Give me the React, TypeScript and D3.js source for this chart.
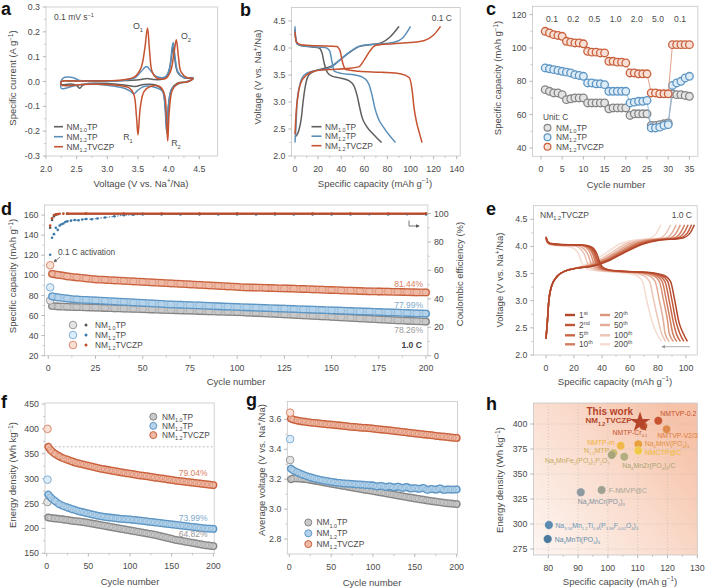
import React from 'react';
import * as d3 from 'd3';

type P = [number, number];

const FONT = "'Liberation Sans', Arial, Helvetica, sans-serif";
const TXT = '#4a4a4a';

const seriesNames = ['NM_{1.0}TP', 'NM_{1.2}TP', 'NM_{1.2}TVCZP'];
const lineColors = ['#5f5f5f', '#5b90bb', '#c65330'];

// ---------- a: CV loops (V, A g-1), anodic then cathodic ----------
const cvGray: P[] = [[2.25,0.0],[2.4,0.002],[2.6,0.003],[3.0,0.003],[3.4,0.005],[3.55,0.008],[3.65,0.012],[3.75,0.008],[3.9,0.01],[3.99,0.03],[4.04,0.09],[4.075,0.14],[4.1,0.09],[4.15,0.035],[4.25,0.015],[4.4,0.012],[4.3,-0.002],[4.15,-0.006],[4.05,-0.03],[4.0,-0.09],[3.975,-0.21],[3.95,-0.12],[3.9,-0.035],[3.8,-0.015],[3.6,-0.012],[3.45,-0.02],[3.3,-0.015],[3.0,-0.008],[2.7,-0.008],[2.6,-0.015],[2.55,-0.027],[2.5,-0.016],[2.4,-0.01],[2.25,-0.012]];
const cvBlue: P[] = [[2.25,0.004],[2.28,0.014],[2.35,0.018],[2.45,0.015],[2.55,0.004],[2.8,0.0],[3.2,0.003],[3.45,0.015],[3.55,0.04],[3.64,0.06],[3.7,0.045],[3.8,0.02],[3.95,0.02],[4.02,0.06],[4.055,0.135],[4.075,0.157],[4.1,0.11],[4.15,0.04],[4.25,0.016],[4.4,0.015],[4.3,0.0],[4.15,-0.01],[4.05,-0.03],[4.0,-0.09],[3.965,-0.2],[3.94,-0.1],[3.9,-0.04],[3.8,-0.025],[3.6,-0.02],[3.5,-0.035],[3.43,-0.05],[3.38,-0.04],[3.25,-0.025],[3.0,-0.015],[2.7,-0.01],[2.5,-0.015],[2.35,-0.025],[2.25,-0.028]];
const cvRed: P[] = [[2.25,0.0],[2.5,0.002],[3.0,0.003],[3.3,0.008],[3.45,0.02],[3.55,0.055],[3.61,0.13],[3.655,0.215],[3.69,0.12],[3.73,0.04],[3.8,0.015],[3.95,0.012],[4.03,0.04],[4.09,0.12],[4.125,0.168],[4.16,0.1],[4.2,0.04],[4.3,0.015],[4.4,0.012],[4.3,-0.002],[4.15,-0.008],[4.06,-0.035],[4.01,-0.12],[3.985,-0.24],[3.965,-0.15],[3.93,-0.05],[3.85,-0.02],[3.7,-0.02],[3.6,-0.04],[3.54,-0.1],[3.5,-0.215],[3.475,-0.14],[3.43,-0.05],[3.35,-0.025],[3.0,-0.012],[2.6,-0.012],[2.25,-0.014]];
const aVoltTicks = [2.0, 2.5, 3.0, 3.5, 4.0, 4.5];
const aCurrTicks = [-0.3, -0.2, -0.1, 0.0, 0.1, 0.2, 0.3];

// ---------- b: charge/discharge at 0.1 C (mAh g-1, V) ----------
const bGrayDis: P[] = [[0,4.35],[0.5,4.2],[2,4.08],[6,4.04],[15,4.02],[21,4.0],[23.5,3.9],[25.5,3.7],[28,3.55],[32,3.48],[40,3.44],[47,3.39],[51,3.3],[54,3.1],[56,2.9],[58,2.72],[62,2.55],[68,2.4],[75,2.25]];
const bBlueDis: P[] = [[0,4.4],[0.5,4.2],[2,4.07],[10,4.03],[26,4.01],[30,3.95],[32,3.75],[34,3.57],[40,3.53],[52,3.5],[60,3.44],[64,3.33],[67,3.1],[69,2.9],[72,2.7],[77,2.52],[87,2.25]];
const bRedDis: P[] = [[0,4.3],[1,4.12],[5,4.06],[20,4.04],[36,4.03],[39,3.95],[41,3.75],[44,3.6],[55,3.57],[75,3.55],[92,3.52],[99,3.45],[101.5,3.2],[103,2.9],[105,2.65],[108,2.4],[110,2.25]];
const bGrayCh: P[] = [[0,2.35],[3,2.45],[5.5,2.7],[7,3.0],[9,3.3],[12,3.5],[18,3.58],[25,3.62],[32,3.67],[40,3.8],[48,3.93],[56,4.03],[65,4.06],[75,4.1],[82,4.2],[90,4.4]];
const bBlueCh: P[] = [[0,2.25],[0.8,2.5],[1.8,3.0],[4,3.3],[8,3.5],[15,3.57],[25,3.6],[31,3.64],[40,3.8],[49,3.95],[57,4.04],[70,4.07],[85,4.1],[93,4.18],[100,4.4]];
const bRedCh: P[] = [[0,2.4],[1,2.8],[2.5,3.1],[5,3.35],[10,3.5],[18,3.58],[30,3.6],[45,3.62],[55,3.65],[60,3.78],[65,3.95],[70,4.05],[85,4.08],[100,4.1],[112,4.14],[120,4.24],[126,4.4]];
const bCapTicks = [0, 20, 40, 60, 80, 100, 120, 140];
const voltTicks = [2.0, 2.5, 3.0, 3.5, 4.0, 4.5];

// ---------- c: rate capability ----------
const cCycles = [1,2,3,4,5,6,7,8,9,10,11,12,13,14,15,16,17,18,19,20,21,22,23,24,25,26,27,28,29,30,31,32,33,34,35];
const cGray = [75,74,73,73,72, 69,69.5,70,70,70, 67,67,67,67,67, 63.5,64,64,64,64, 59.5,60.5,60.5,60.5,60.5, 53.5,53.5,54,54.5,55, 72.5,72,72,71.5,71];
const cBlue = [88,87.5,87,86.5,86, 85.5,85,84,83.5,83, 79,79,78.5,78.5,78, 74,74,74,74,74, 67,67.5,68,68,68.5, 52,52,52.5,53.5,54, 77.5,79,80,82,83];
const cRed = [110,109,108,107.5,107, 104,103.5,103,103,102.5, 98,97.5,97.5,97,97, 92,92,91.5,91.5,91, 85,85,84.5,84.5,84.5, 73,73,72.5,72.5,72.5, 102,102,102,102,102];
const cRates = ['0.1', '0.2', '0.5', '1.0', '2.0', '5.0', '0.1'];
const cRateCenters = [2.6, 7.6, 12.6, 17.6, 22.6, 27.6, 32.8];
const cCycleTicks = [0, 5, 10, 15, 20, 25, 30, 35];
const cCapTicks = [40, 60, 80, 100, 120];

// ---------- d: long cycling at 1.0 C (cycle, mAh g-1) and CE (cycle, %) ----------
const dCapGray: P[] = [[1,75],[2,69.5],[5,69],[10,68.7],[15,68.4],[20,68.1],[25,67.8],[30,67.5],[35,67.2],[40,66.9],[45,66.6],[50,66.3],[55,66],[60,65.7],[65,65.4],[70,65.1],[75,64.8],[80,64.5],[85,64.2],[90,63.9],[95,63.6],[100,63.3],[105,62.9],[110,62.5],[115,62.1],[120,61.7],[125,61.2],[130,60.7],[135,60.2],[140,59.7],[145,59.2],[150,58.7],[155,58.2],[160,57.7],[165,57.2],[170,56.7],[175,56.2],[180,55.7],[185,55.2],[190,54.8],[195,54.4],[200,54]];
const dCapBlue: P[] = [[1,88],[2,79],[5,78],[10,77],[15,76],[20,75.5],[25,75],[30,74.5],[35,74],[40,73.5],[45,73],[50,72.5],[55,72],[60,71.5],[65,71],[70,70.7],[75,70.4],[80,70],[85,69.6],[90,69.2],[95,68.8],[100,68.5],[105,68.2],[110,67.8],[115,67.5],[120,67.2],[125,66.8],[130,66.5],[135,66.2],[140,65.8],[145,65.5],[150,65.2],[155,64.8],[160,64.5],[165,64.2],[170,63.8],[175,63.5],[180,63.2],[185,62.8],[190,62.5],[195,62.2],[200,61.8]];
const dCapRed: P[] = [[1,110],[2,101.5],[5,100.5],[10,99],[15,98],[20,97],[25,96],[30,95.5],[35,95],[40,94.5],[45,94],[50,93.5],[55,93],[60,92.5],[65,92],[70,91.5],[75,91],[80,90.5],[85,90],[90,89.5],[95,89],[100,88.5],[105,88],[110,87.8],[115,87.5],[120,87.2],[125,87],[130,86.7],[135,86.4],[140,86],[145,85.7],[150,85.4],[155,85],[160,84.7],[165,84.4],[170,84.1],[175,83.9],[180,83.7],[185,83.5],[190,83.3],[195,83.1],[200,83]];
const dCeGray: P[] = [[1,90],[2,95.5],[3,98],[4,99.2],[5,99.5],[10,99.8],[20,99.8],[50,99.8],[100,99.8],[150,99.8],[200,99.8]];
const dCeBlue: P[] = [[1,71],[2,83],[3,85.5],[4,90],[5,88.5],[6,91.5],[7,92.5],[8,93],[9,94],[10,94.5],[12,95],[14,95.5],[16,95.2],[18,95.8],[20,96.2],[23,96],[26,96.5],[30,97.2],[35,98],[40,98.8],[45,99.1],[50,99.3],[60,99.3],[70,99.4],[80,99.3],[90,99.4],[100,99.4],[110,99.3],[120,99.4],[130,99.4],[140,99.3],[150,99.4],[160,99.4],[170,99.5],[180,99.4],[190,99.5],[200,99.4]];
const dCeRed: P[] = [[1,91.5],[2,96.7],[3,98.9],[4,99.5],[5,99.7],[6,99.8],[8,99.9],[10,100],[20,100],[40,100],[60,100],[80,100],[100,100],[120,100],[140,100],[160,100],[180,100],[200,100]];
const dRetention = ['81.44%', '77.99%', '78.26%'];
const dCycleTicks = [0, 25, 50, 75, 100, 125, 150, 175, 200];
const dCapTicks = [20, 40, 60, 80, 100, 120, 140, 160];
const dCeTicks = [0, 20, 40, 60, 80, 100];

// ---------- e: NM1.2TVCZP profiles at 1.0 C ----------
const eCycleLabels = ['1^{st}', '2^{nd}', '5^{th}', '10^{th}', '20^{th}', '50^{th}', '100^{th}', '200^{th}'];
const eColors = ['#b3462a', '#bf5637', '#c86849', '#d17c5f', '#db9479', '#e4ac97', '#edc5b5', '#f4dcd2'];
const eCharge: P[][] = [
  [[0,2.3],[1,2.62],[2,3.0],[4,3.27],[8,3.45],[14,3.55],[22,3.6],[34,3.64],[46,3.75],[57,3.9],[70,4.05],[80,4.11],[97,4.15],[103,4.25],[106,4.4]],
  [[0,2.3],[1,2.62],[2,3.0],[4,3.27],[8,3.45],[14,3.55],[22,3.6],[33,3.64],[45,3.75],[56,3.9],[68.5,4.05],[78,4.11],[95,4.15],[101,4.25],[104,4.4]],
  [[0,2.3],[1,2.62],[2,3.0],[4,3.27],[8,3.45],[14,3.55],[22,3.6],[32,3.64],[44,3.75],[55,3.9],[67,4.05],[76,4.11],[93,4.15],[98.5,4.25],[101.5,4.4]],
  [[0,2.3],[1,2.62],[2,3.0],[4,3.27],[8,3.45],[14,3.55],[22,3.6],[31,3.64],[43,3.75],[53.5,3.9],[65,4.05],[74,4.11],[91,4.15],[96,4.25],[99,4.4]],
  [[0,2.3],[1,2.62],[2,3.0],[4,3.27],[8,3.45],[14,3.55],[22,3.6],[30,3.64],[41,3.75],[52,3.9],[63,4.05],[72,4.11],[88,4.15],[93,4.25],[96,4.4]],
  [[0,2.3],[1,2.62],[2,3.0],[4,3.27],[8,3.45],[14,3.55],[22,3.6],[29,3.64],[40,3.75],[50,3.9],[60,4.05],[69,4.11],[85,4.15],[90,4.25],[93,4.4]],
  [[0,2.3],[1,2.62],[2,3.0],[4,3.27],[8,3.45],[14,3.55],[21,3.6],[28,3.64],[38,3.75],[47.5,3.9],[57,4.05],[66,4.11],[81,4.15],[86,4.25],[89,4.4]],
  [[0,2.3],[1,2.62],[2,3.0],[4,3.27],[8,3.45],[14,3.55],[20,3.6],[26,3.64],[35,3.75],[44,3.9],[53,4.05],[61,4.11],[74,4.15],[79,4.25],[82,4.4]],
];
const eDischarge: P[][] = [
  [[0,4.18],[1,4.1],[3,4.06],[10,4.04],[28,4.02],[33,3.98],[36.5,3.85],[38.5,3.7],[41.5,3.6],[50,3.55],[74,3.52],[84,3.47],[89,3.35],[92,3.0],[95,2.6],[98,2.4],[101,2.25]],
  [[0,4.17],[1,4.09],[3,4.05],[10,4.03],[27,4.02],[32,3.98],[35.5,3.85],[37.5,3.7],[40.5,3.6],[49,3.55],[72,3.52],[82,3.47],[87,3.35],[90,3.0],[93,2.6],[95.5,2.4],[98.5,2.25]],
  [[0,4.17],[1,4.09],[3,4.05],[10,4.03],[26,4.02],[31,3.98],[34.5,3.85],[36.5,3.7],[39.5,3.6],[48,3.55],[70,3.52],[80,3.47],[85,3.35],[88,3.0],[91,2.6],[93,2.4],[96,2.25]],
  [[0,4.16],[1,4.08],[3,4.05],[10,4.03],[25,4.02],[30,3.98],[33.5,3.85],[35.5,3.7],[38.5,3.6],[47,3.55],[68,3.52],[78,3.47],[83,3.35],[86,3.0],[89,2.6],[90.5,2.4],[93.5,2.25]],
  [[0,4.16],[1,4.08],[3,4.05],[10,4.03],[24,4.02],[28.5,3.98],[32,3.85],[34,3.7],[37,3.6],[45,3.55],[66,3.52],[76,3.47],[81,3.35],[84,3.0],[87,2.6],[88,2.4],[91,2.25]],
  [[0,4.15],[1,4.07],[3,4.04],[10,4.02],[22,4.01],[26.5,3.97],[30,3.85],[32,3.7],[35,3.6],[43,3.55],[63,3.52],[73,3.47],[78,3.35],[81,3.0],[84,2.6],[85,2.4],[88,2.25]],
  [[0,4.15],[1,4.07],[3,4.04],[10,4.02],[20,4.01],[24,3.97],[27.5,3.85],[29.5,3.7],[32.5,3.6],[40,3.55],[59,3.52],[69,3.47],[74,3.35],[77,3.0],[80.5,2.6],[82.5,2.4],[85.5,2.25]],
  [[0,4.14],[1,4.06],[3,4.03],[8,4.01],[16,4.0],[20,3.96],[23.5,3.85],[25.5,3.7],[28.5,3.6],[36,3.55],[54,3.52],[64,3.47],[69,3.35],[72,3.0],[76,2.6],[79,2.4],[82.5,2.25]],
];
const eCapTicks = [0, 20, 40, 60, 80, 100];

// ---------- f: energy density (cycle, Wh kg-1) ----------
const fGray: P[] = [[1,253],[2,222],[5,221],[10,220],[15,219],[20,218],[25,217],[30,215.5],[35,214.5],[40,213.5],[45,212.5],[50,211],[55,209.5],[60,208],[65,206.5],[70,205],[75,203.5],[80,202],[85,200.5],[90,199],[95,197.5],[100,196],[105,194.5],[110,193],[115,191.5],[120,190],[125,188.5],[130,187],[135,185],[140,183],[145,181],[150,179],[155,177],[160,175.5],[165,174],[170,172.5],[175,171],[180,169.5],[185,168],[190,166.5],[195,165.5],[200,164.5]];
const fBlue: P[] = [[1,298],[2,268],[5,262],[10,255],[15,249],[20,245],[25,242],[30,239],[35,236.5],[40,234],[45,232],[50,230],[55,228],[60,226],[65,224.5],[70,223],[75,222],[80,221],[85,220],[90,219],[95,218.5],[100,218],[105,217],[110,216],[115,215],[120,214],[125,213],[130,212],[135,211],[140,210],[145,209],[150,208],[155,207],[160,206],[165,205],[170,204],[175,203],[180,202],[185,201],[190,200],[195,199.5],[200,199]];
const fRed: P[] = [[1,400],[2,364],[5,357],[10,350],[15,345],[20,341],[25,338],[30,335],[35,332],[40,330],[45,328],[50,326],[55,324],[60,322],[65,320],[70,318.5],[75,317],[80,315.5],[85,314],[90,312.5],[95,311],[100,310],[105,308.5],[110,307],[115,306],[120,305],[125,303.5],[130,302],[135,301],[140,300],[145,298.5],[150,297.5],[155,296],[160,295],[165,294],[170,293],[175,292],[180,291],[185,290],[190,289],[195,288],[200,287]];
const fRetention = ['79.04%', '73.99%', '64.82%'];
const fReference = 364;
const fCycleTicks = [0, 50, 100, 150, 200];
const fEnergyTicks = [150, 200, 250, 300, 350, 400, 450];

// ---------- g: average voltage (cycle, V) ----------
const gGray: P[] = [[1,3.328],[2,3.2],[5,3.205],[10,3.205],[15,3.203],[20,3.2],[25,3.196],[30,3.191],[35,3.186],[40,3.18],[45,3.175],[50,3.17],[55,3.165],[60,3.16],[65,3.155],[70,3.15],[75,3.145],[80,3.14],[85,3.135],[90,3.13],[95,3.126],[100,3.121],[105,3.116],[110,3.111],[115,3.106],[120,3.101],[125,3.096],[130,3.091],[135,3.086],[140,3.081],[145,3.077],[150,3.072],[155,3.067],[160,3.063],[165,3.058],[170,3.054],[175,3.05],[180,3.046],[185,3.042],[190,3.039],[195,3.036],[200,3.034]];
const gBlue: P[] = [[1,3.468],[2,3.27],[5,3.258],[10,3.245],[15,3.232],[20,3.222],[25,3.213],[30,3.205],[35,3.198],[40,3.192],[45,3.187],[50,3.182],[55,3.178],[60,3.175],[65,3.172],[70,3.17],[75,3.168],[80,3.166],[85,3.164],[90,3.162],[95,3.16],[100,3.158],[105,3.152],[110,3.155],[115,3.148],[120,3.152],[125,3.145],[130,3.15],[135,3.142],[140,3.148],[145,3.138],[150,3.14],[155,3.135],[160,3.142],[165,3.128],[170,3.135],[175,3.13],[180,3.138],[185,3.128],[190,3.132],[195,3.13],[200,3.132]];
const gRed: P[] = [[1,3.645],[2,3.605],[5,3.598],[10,3.592],[15,3.587],[20,3.583],[25,3.579],[30,3.576],[35,3.573],[40,3.57],[45,3.567],[50,3.565],[55,3.562],[60,3.559],[65,3.556],[70,3.553],[75,3.55],[80,3.548],[85,3.545],[90,3.543],[95,3.541],[100,3.538],[105,3.535],[110,3.532],[115,3.529],[120,3.526],[125,3.523],[130,3.52],[135,3.516],[140,3.513],[145,3.51],[150,3.506],[155,3.503],[160,3.5],[165,3.497],[170,3.494],[175,3.49],[180,3.487],[185,3.484],[190,3.481],[195,3.478],[200,3.476]];
const gVoltTicks = [2.8, 3.0, 3.2, 3.4, 3.6];

// ---------- h: comparison (mAh g-1, Wh kg-1) ----------
const hNames = ['NMTP-Cr_{0.1}', 'NMTVP-0.2', 'NMTVP-V2/3', 'Na_{4}MnV(PO_{4})_{3}', 'NMCTP@C', 'NMTP-m', 'N_{1.5}MTP', 'Na_{4}MnFe_{2}(PO_{4})_{2}P_{2}O_{7}', 'Na_{4}MnZr(PO_{4})_{3}/C', 'F-NMVP@C', 'Na_{4}MnCr(PO_{4})_{3}', 'Na_{3.56}Mn_{1.2}Ti_{0.8}(P_{3.98}F_{0.02}O_{4})_{3}', 'Na_{3}MnTi(PO_{4})_{3}'];
const hCapacity = [111.9, 116.9, 119.7, 110.2, 110.2, 104.3, 101.8, 101.3, 105.5, 97.9, 90.9, 80.2, 79.8];
const hEnergy = [398, 403.3, 394.7, 379.7, 373.3, 378.3, 370.7, 369, 367.3, 334, 331.7, 299, 285];
const hThisWork: P = [110.8, 401.7];
const hCapTicks = [80, 90, 100, 110, 120, 130];
const hEnergyTicks = [275, 300, 325, 350, 375, 400];

// styles for h
const hDot = ['#c4532f', '#c8532f', '#de8a4a', '#e8a040', '#f2c94a', '#f0b84a', '#cdb45a', '#a8a478', '#b3ad80', '#a0a090', '#8e9aa0', '#5b8bb0', '#4b7a9e'];
const hText = ['#c4532f', '#c8532f', '#de7a3a', '#e09040', '#efb830', '#efb040', '#d4ad50', '#c2ab62', '#aaa470', '#a6a696', '#7f909e', '#6a96b8', '#5a88a8'];
const hLabelPos: [string, number, number][] = [['end',4,7],['start',2,-7.5],['middle',11,6],['start',6.5,-0.8],['start',6.5,1.8],['end',-6,-3.5],['end',-4,-3],['end',-2,6],['start',-2,8.5],['start',7,1],['start',-3,9.5],['start',6.5,1],['start',7,1]];

// rope styles (gray, blue, red)
const ropeEdge = ['#858585', '#5d95c4', '#c9603c'];
const ropeInner = ['#c9c9c9', '#b4d3ea', '#eeb9a5'];
const dotFill = ['#e4e4e4', '#deecf7', '#f9e0d6'];
const dotStroke = ['#9a9a9a', '#7fb0d8', '#dc8a6c'];
const pctColor = ['#d9805f', '#7fa9cc', '#9a9a9a'];

function parts(text: string) {
  return text.split(/(_\{[^}]*\}|\^\{[^}]*\})/).filter(s => s.length).map(s => {
    if (s.startsWith('_{')) return { t: s.slice(2, -1), m: 'sub' };
    if (s.startsWith('^{')) return { t: s.slice(2, -1), m: 'sup' };
    return { t: s, m: 'n' };
  });
}

function T({ x, y, s, size = 8.8, anchor = 'start', fill = TXT, weight = 400, rot = 0, sub = 0.66 }:
  { x: number; y: number; s: string; size?: number; anchor?: string; fill?: string; weight?: number | string; rot?: number; sub?: number }) {
  let cur = 0;
  const spans = parts(s).map((p, i) => {
    const target = p.m === 'sub' ? size * 0.28 : p.m === 'sup' ? -size * 0.4 : 0;
    const dy = target - cur;
    cur = target;
    return <tspan key={i} dy={dy} fontSize={p.m === 'n' ? size : size * sub}>{p.t}</tspan>;
  });
  return (
    <text x={x} y={y + size * 0.35} textAnchor={anchor as any} fontSize={size} fill={fill} fontWeight={weight}
      fontFamily={FONT} transform={rot ? `rotate(${rot} ${x} ${y})` : undefined}>{spans}</text>
  );
}

const mids = (t: number[]) => t.slice(1).map((v, i) => (v + t[i]) / 2);

function Frame({ x, y, xt, yt, xf, yf, xMinor = true, yMinor = true, right }:
  { x: any; y: any; xt: number[]; yt: number[]; xf: (v: number) => string; yf: (v: number) => string; xMinor?: boolean; yMinor?: boolean; right?: { y: any; t: number[] } }) {
  const [l, r] = x.range();
  const [b, t] = y.range();
  return (
    <g>
      <rect x={l} y={t} width={r - l} height={b - t} fill="none" stroke="#c6c6c6" strokeWidth={0.8} />
      {xMinor && mids(xt).map(v => <line key={'xm' + v} x1={x(v)} x2={x(v)} y1={b} y2={b + 2} stroke="#aaa" strokeWidth={0.6} />)}
      {yMinor && mids(yt).map(v => <line key={'ym' + v} x1={l} x2={l - 2} y1={y(v)} y2={y(v)} stroke="#aaa" strokeWidth={0.6} />)}
      {xt.map(v => (
        <g key={'x' + v}>
          <line x1={x(v)} x2={x(v)} y1={b} y2={b + 3.2} stroke="#999" strokeWidth={0.7} />
          <T x={x(v)} y={b + 12.5} s={xf(v)} anchor="middle" />
        </g>
      ))}
      {yt.map(v => (
        <g key={'y' + v}>
          <line x1={l} x2={l - 3.2} y1={y(v)} y2={y(v)} stroke="#999" strokeWidth={0.7} />
          <T x={l - 6} y={y(v)} s={yf(v)} anchor="end" />
        </g>
      ))}
      {right && mids(right.t).map(v => <line key={'rm' + v} x1={r} x2={r + 2} y1={right.y(v)} y2={right.y(v)} stroke="#aaa" strokeWidth={0.6} />)}
      {right && right.t.map(v => (
        <g key={'r' + v}>
          <line x1={r} x2={r + 3.2} y1={right.y(v)} y2={right.y(v)} stroke="#999" strokeWidth={0.7} />
          <T x={r + 6} y={right.y(v)} s={String(v)} anchor="start" />
        </g>
      ))}
    </g>
  );
}

function Rope({ pts, x, y, i }: { pts: P[]; x: any; y: any; i: number }) {
  const xy: P[] = pts.map(p => [x(p[0]), y(p[1])]);
  const first = xy[0];
  const rest = xy.slice(1);
  const d = d3.line().curve(d3.curveMonotoneX)(rest) || '';
  return (
    <g>
      <path d={d} fill="none" stroke={ropeEdge[i]} strokeWidth={7.8} strokeLinecap="round" />
      <path d={d} fill="none" stroke={ropeInner[i]} strokeWidth={5.2} strokeLinecap="round" />
      {rest.map((p, k) => <circle key={k} cx={p[0]} cy={p[1]} r={3.7} fill="none" stroke={ropeEdge[i]} strokeWidth={0.5} opacity={0.75} />)}
      <circle cx={first[0]} cy={first[1]} r={3.8} fill={dotFill[i]} stroke={dotStroke[i]} strokeWidth={1} />
    </g>
  );
}

const f1 = (v: number) => v.toFixed(1);
const f0 = (v: number) => String(v);

export default function App() {
  // scales
  const xa = d3.scaleLinear().domain([2.0, 4.8]).range([46, 217.7]);
  const ya = d3.scaleLinear().domain([-0.3, 0.3]).range([156, 7]);
  const xb = d3.scaleLinear().domain([-3, 143]).range([291.5, 460.2]);
  const yb = d3.scaleLinear().domain([2.0, 4.75]).range([156, 7.5]);
  const xc = d3.scaleLinear().domain([-2, 37]).range([532.5, 697.9]);
  const yc = d3.scaleLinear().domain([35, 125]).range([156.3, 6.3]);
  const xd = d3.scaleLinear().domain([-2, 201]).range([44.5, 427.9]);
  const yd = d3.scaleLinear().domain([20, 170]).range([355.7, 205]);
  const yd2 = d3.scaleLinear().domain([0, 106]).range([355.7, 205]);
  const xe = d3.scaleLinear().domain([-9, 108]).range([533.4, 697.2]);
  const ye = d3.scaleLinear().domain([2.0, 4.75]).range([355, 205.7]);
  const xf = d3.scaleLinear().domain([-2, 201]).range([45, 214.2]);
  const yf = d3.scaleLinear().domain([150, 452]).range([553.3, 403]);
  const xg = d3.scaleLinear().domain([-2.4, 201]).range([287.3, 457.5]);
  const yg = d3.scaleLinear().domain([2.7, 3.72]).range([554, 401.4]);
  const xh = d3.scaleLinear().domain([75, 130]).range([533.4, 697.3]);
  const yh = d3.scaleLinear().domain([269, 421]).range([555, 403]);

  const cvLine = (pts: P[]) => d3.line().x(p => xa(p[0])).y(p => ya(p[1])).curve(d3.curveCatmullRomClosed.alpha(0.5))(pts) || '';
  const bLine = (pts: P[]) => d3.line().x(p => xb(p[0])).y(p => yb(p[1])).curve(d3.curveMonotoneX)(pts) || '';
  const eLine = (pts: P[]) => d3.line().x(p => xe(p[0])).y(p => ye(p[1])).curve(d3.curveMonotoneX)(pts) || '';
  const cLine = (vals: number[]) => d3.line<number>().x((_, i) => xc(cCycles[i])).y(v => yc(v))(vals) || '';
  const ceLine = (pts: P[]) => d3.line().x(p => xd(p[0])).y(p => yd2(p[1]))(pts) || '';

  const cvSets = [cvGray, cvBlue, cvRed];
  const bSets = [[bGrayDis, bGrayCh], [bBlueDis, bBlueCh], [bRedDis, bRedCh]];
  const cSets = [cGray, cBlue, cRed];
  const dCap = [dCapGray, dCapBlue, dCapRed];
  const dCe = [dCeGray, dCeBlue, dCeRed];
  const fSets = [fGray, fBlue, fRed];
  const gSets = [gGray, gBlue, gRed];
  const ceDot = ['#555', '#3b78aa', '#c04b29'];
  const ceLineW = [1.2, 1.0, 2.2];

  const star = d3.symbol().type(d3.symbolStar).size(130)() || '';

  return (
    <div style={{ position: 'absolute', left: 0, top: 0 }}>
      <svg width={708} height={588} style={{ display: 'block', background: '#fff' }} fontFamily={FONT}>
        <defs>
          <linearGradient id="hbg" x1="0" y1="1" x2="1" y2="0.25">
            <stop offset="0" stopColor="#fdf6f2" />
            <stop offset="0.55" stopColor="#fadccd" />
            <stop offset="1" stopColor="#f6c2a8" />
          </linearGradient>
          <marker id="ah" viewBox="0 0 6 6" refX="5" refY="3" markerWidth="5" markerHeight="5" orient="auto">
            <path d="M0,0 L6,3 L0,6 z" fill="#555" />
          </marker>
          <marker id="ahg" viewBox="0 0 6 6" refX="5" refY="3" markerWidth="5" markerHeight="5" orient="auto">
            <path d="M0,0 L6,3 L0,6 z" fill="#999" />
          </marker>
        </defs>

        {/* panel letters */}
        {[['a', 1, 15], ['b', 240, 16], ['c', 486, 15], ['d', 1, 215], ['e', 486, 215], ['f', 1, 408], ['g', 246, 406], ['h', 486, 410]].map(([l, x, y]) => (
          <text key={l as string} x={x as number} y={y as number} fontSize={18} fontWeight="bold" fill="#111" fontFamily={FONT}>{l}</text>
        ))}

        {/* ---- a ---- */}
        <Frame x={xa} y={ya} xt={aVoltTicks} yt={aCurrTicks} xf={f1} yf={f1} />
        {cvSets.map((pts, i) => <path key={i} d={cvLine(pts)} fill="none" stroke={lineColors[i]} strokeWidth={1.5} />)}
        <T x={54} y={17} s="0.1 mV s^{−1}" size={8.5} />
        <T x={138} y={26} s="O_{1}" size={8.8} anchor="middle" />
        <T x={186} y={36} s="O_{2}" size={8.8} anchor="middle" />
        <T x={128} y={137} s="R_{1}" size={8.8} anchor="middle" />
        <T x={176} y={143} s="R_{2}" size={8.8} anchor="middle" />
        {seriesNames.map((n, i) => (
          <g key={n}>
            <line x1={54} x2={63} y1={126.7 + i * 10} y2={126.7 + i * 10} stroke={lineColors[i]} strokeWidth={1.6} />
            <T x={66.5} y={126.7 + i * 10} s={n} size={8.3} />
          </g>
        ))}
        <T x={13} y={78} s="Specific current (A g^{−1})" size={9.5} anchor="middle" rot={-90} />
        <T x={141} y={183.5} s="Voltage (V vs. Na^{+}/Na)" size={9.5} anchor="middle" />

        {/* ---- b ---- */}
        <Frame x={xb} y={yb} xt={bCapTicks} yt={voltTicks} xf={f0} yf={f1} />
        {bSets.map((pair, i) => pair.map((pts, k) => <path key={i + '-' + k} d={bLine(pts)} fill="none" stroke={lineColors[i]} strokeWidth={1.5} />))}
        <T x={452} y={18} s="0.1 C" size={8.5} anchor="end" />
        {seriesNames.map((n, i) => (
          <g key={n}>
            <line x1={311.5} x2={321.5} y1={126.7 + i * 9.5} y2={126.7 + i * 9.5} stroke={lineColors[i]} strokeWidth={1.6} />
            <T x={325} y={126.7 + i * 9.5} s={n} size={8.3} />
          </g>
        ))}
        <T x={258} y={77} s="Voltage (V vs. Na^{+}/Na)" size={9.5} anchor="middle" rot={-90} />
        <T x={375} y={183.5} s="Specific capacity (mAh g^{−1})" size={9.5} anchor="middle" />

        {/* ---- c ---- */}
        <Frame x={xc} y={yc} xt={cCycleTicks} yt={cCapTicks} xf={f0} yf={f0} xMinor={false} />
        {cRates.map((r, i) => <T key={i} x={xc(cRateCenters[i])} y={19} s={r} size={8.6} anchor="middle" />)}
        {cSets.map((vals, i) => (
          <g key={i}>
            <path d={cLine(vals)} fill="none" stroke={dotStroke[i]} strokeWidth={0.8} />
            {vals.map((v, k) => <circle key={k} cx={xc(cCycles[k])} cy={yc(v)} r={3.8} fill={dotFill[i]} stroke={ropeEdge[i]} strokeWidth={1.3} />)}
          </g>
        ))}
        <T x={543} y={117} s="Unit: C" size={8.3} />
        {seriesNames.map((n, i) => (
          <g key={n}>
            <circle cx={547.5} cy={127.7 + i * 9.5} r={3.4} fill={dotFill[i]} stroke={ropeEdge[i]} strokeWidth={1.2} />
            <T x={556} y={127.7 + i * 9.5} s={n} size={8.3} />
          </g>
        ))}
        <T x={498} y={78} s="Specific capacity (mAh g^{−1})" size={9.5} anchor="middle" rot={-90} />
        <T x={616} y={184.5} s="Cycle number" size={9.5} anchor="middle" />

        {/* ---- d ---- */}
        <Frame x={xd} y={yd} xt={dCycleTicks} yt={dCapTicks} xf={f0} yf={f0} right={{ y: yd2, t: dCeTicks }} />
        {dCe.map((pts, i) => (
          <g key={'ce' + i}>
            <path d={ceLine(pts.filter(p => p[0] >= 10))} fill="none" stroke={ceDot[i]} strokeWidth={ceLineW[i]} strokeDasharray={i === 1 ? '1.6 1.2' : undefined} />
            {pts.map((p, k) => <circle key={k} cx={xd(p[0])} cy={yd2(p[1])} r={1.3} fill={ceDot[i]} />)}
          </g>
        ))}
        {dCap.map((pts, i) => <Rope key={i} pts={pts} x={xd} y={yd} i={i} />)}
        <T x={58} y={252.5} s="0.1 C activation" size={8.3} />
        <line x1={60} y1={257} x2={54} y2={262} stroke="#555" strokeWidth={0.7} markerEnd="url(#ah)" />
        <path d="M409,220.5 V226 H419" fill="none" stroke="#555" strokeWidth={0.8} markerEnd="url(#ah)" />
        {dRetention.map((s, i) => <T key={s} x={423} y={[284, 305, 330][i]} s={s} size={8.5} anchor="end" fill={pctColor[i]} />)}
        <T x={422} y={345} s="1.0 C" size={8.6} anchor="end" fill="#444" weight={600} />
        {seriesNames.map((n, i) => (
          <g key={n}>
            <circle cx={73} cy={325 + i * 10} r={3.8} fill={dotFill[i]} stroke={dotStroke[i]} strokeWidth={1} />
            <circle cx={86} cy={325 + i * 10} r={1.5} fill={ceDot[i]} />
            <T x={95} y={325 + i * 10} s={n} size={8.3} />
          </g>
        ))}
        <T x={13} y={276} s="Specific capacity (mAh g^{−1})" size={9.5} anchor="middle" rot={-90} />
        <T x={460} y={274} s="Coulombic efficiency (%)" size={9.5} anchor="middle" rot={-90} />
        <T x={236} y={381.5} s="Cycle number" size={9.5} anchor="middle" />

        {/* ---- e ---- */}
        <Frame x={xe} y={ye} xt={eCapTicks} yt={voltTicks} xf={f0} yf={f1} />
        {eCharge.map((_, i) => 7 - i).map(k => (
          <g key={k}>
            <path d={eLine(eCharge[k])} fill="none" stroke={eColors[k]} strokeWidth={1.5} />
            <path d={eLine(eDischarge[k])} fill="none" stroke={eColors[k]} strokeWidth={1.5} />
          </g>
        ))}
        <T x={540} y={215} s="NM_{1.2}TVCZP" size={8.5} />
        <T x={692} y={215} s="1.0 C" size={8.5} anchor="end" />
        {eCycleLabels.map((l, i) => {
          const col = Math.floor(i / 4);
          const row = i % 4;
          const lx = col ? 600 : 565;
          const ly = [315, 325, 335.3, 344.3][row];
          return (
            <g key={l}>
              <line x1={lx} x2={lx + 10} y1={ly} y2={ly} stroke={eColors[i]} strokeWidth={2.4} />
              <T x={lx + 14} y={ly} s={l} size={8.3} />
            </g>
          );
        })}
        <line x1={690} y1={346.7} x2={662} y2={346.7} stroke="#999" strokeWidth={0.8} markerEnd="url(#ahg)" />
        <T x={500} y={280} s="Voltage (V vs. Na^{+}/Na)" size={9.5} anchor="middle" rot={-90} />
        <T x={615} y={381.5} s="Specific capacity (mAh g^{−1})" size={9.5} anchor="middle" />

        {/* ---- f ---- */}
        <Frame x={xf} y={yf} xt={fCycleTicks} yt={fEnergyTicks} xf={f0} yf={f0} />
        <line x1={xf(0)} x2={xf(200)} y1={yf(fReference)} y2={yf(fReference)} stroke="#aaa" strokeWidth={0.8} strokeDasharray="2 2" />
        {fSets.map((pts, i) => <Rope key={i} pts={pts} x={xf} y={yf} i={i} />)}
        {fRetention.map((s, i) => <T key={s} x={207.5} y={[473.3, 518.3, 534][i]} s={s} size={8.5} anchor="end" fill={pctColor[i]} />)}
        {seriesNames.map((n, i) => (
          <g key={n}>
            <circle cx={153.3} cy={416.7 + i * 9.2} r={3.5} fill={ropeInner[i]} stroke={ropeEdge[i]} strokeWidth={1} />
            <T x={162} y={416.7 + i * 9.2} s={n} size={8.3} />
          </g>
        ))}
        <T x={13} y={475} s="Energy density (Wh kg^{−1})" size={9.5} anchor="middle" rot={-90} />
        <T x={130} y={581.5} s="Cycle number" size={9.5} anchor="middle" />

        {/* ---- g ---- */}
        <Frame x={xg} y={yg} xt={fCycleTicks} yt={gVoltTicks} xf={f0} yf={f1} />
        {gSets.map((pts, i) => <Rope key={i} pts={pts} x={xg} y={yg} i={i} />)}
        {seriesNames.map((n, i) => (
          <g key={n}>
            <circle cx={308.3} cy={522.5 + i * 10.8} r={3.5} fill={ropeInner[i]} stroke={ropeEdge[i]} strokeWidth={1} />
            <T x={316.5} y={522.5 + i * 10.8} s={n} size={8.3} />
          </g>
        ))}
        <T x={262} y={470} s="Average voltage (V vs. Na^{+}/Na)" size={9.5} anchor="middle" rot={-90} />
        <T x={372} y={583} s="Cycle number" size={9.5} anchor="middle" />

        {/* ---- h ---- */}
        <rect x={xh(75)} y={yh(421)} width={xh(130) - xh(75)} height={yh(269) - yh(421)} fill="url(#hbg)" />
        {hCapTicks.slice(0, -1).map(v => <line key={'hv' + v} x1={xh(v)} x2={xh(v)} y1={yh(421)} y2={yh(269)} stroke="#b9b9b9" strokeWidth={0.6} strokeDasharray="1 2" />)}
        {hEnergyTicks.map(v => <line key={'hh' + v} x1={xh(75)} x2={xh(130)} y1={yh(v)} y2={yh(v)} stroke="#b9b9b9" strokeWidth={0.6} strokeDasharray="1 2" />)}
        <Frame x={xh} y={yh} xt={hCapTicks} yt={hEnergyTicks} xf={f0} yf={f0} yMinor={false} />
        {hNames.map((n, i) => (
          <circle key={'hd' + i} cx={xh(hCapacity[i])} cy={yh(hEnergy[i])} r={4.2} fill={hDot[i]} stroke="#fff" strokeOpacity={0.5} strokeWidth={0.5} />
        ))}
        <path d={star} transform={`translate(${xh(hThisWork[0])},${yh(hThisWork[1])})`} fill="#b5452a" />
        {hNames.map((n, i) => (
          <T key={'hl' + i} x={xh(hCapacity[i]) + hLabelPos[i][1]} y={yh(hEnergy[i]) + hLabelPos[i][2]} s={n} size={6.9} anchor={hLabelPos[i][0]} fill={hText[i]} weight={400} sub={0.6} />
        ))}
        <T x={586.5} y={411.5} s="This work" size={10} fill="#b5452a" weight={700} />
        <T x={585.5} y={420.5} s="NM_{1.2}TVCZP" size={8} fill="#b5452a" weight={600} />
        <T x={500} y={480} s="Energy density (Wh kg^{−1})" size={9.5} anchor="middle" rot={-90} />
        <T x={620} y={581.5} s="Specific capacity (mAh g^{−1})" size={9.5} anchor="middle" />
      </svg>
    </div>
  );
}
